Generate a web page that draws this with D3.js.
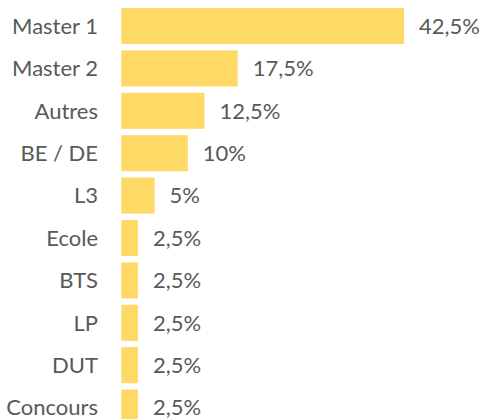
<!DOCTYPE html>
<html><head><meta charset="utf-8">
<script src="https://cdn.jsdelivr.net/npm/d3@7"></script>
<style>body{margin:0;background:#fff}svg{display:block}</style>
</head><body>
<script>
const categories = ["Master 1","Master 2","Autres","BE / DE","L3","Ecole","BTS","LP","DUT","Concours"];
const values = [42.5,17.5,12.5,10,5,2.5,2.5,2.5,2.5,2.5];
const labels = ["42,5%","17,5%","12,5%","10%","5%","2,5%","2,5%","2,5%","2,5%","2,5%"];

const W=481,H=419;
const svg=d3.select("body").append("svg").attr("width",W).attr("height",H);
const x=d3.scaleLinear().domain([0,42.5]).range([121.3,404]);
const y=d3.scaleBand().domain(categories).range([4.8,428.8]).paddingInner(0.15).paddingOuter(0.075);
const font="Lato, 'Open Sans', sans-serif";
const g=svg.append("g");
g.selectAll("rect").data(values).join("rect")
 .attr("x",x(0)).attr("y",(d,i)=>y(categories[i]))
 .attr("width",d=>x(d)-x(0)).attr("height",y.bandwidth())
 .attr("fill","#FFD966");
g.selectAll("text.cat").data(categories).join("text").attr("class","cat")
 .attr("x",98).attr("y",d=>y(d)+y.bandwidth()/2).attr("dy","0.35em")
 .attr("text-anchor","end").attr("font-family",font).attr("font-size",22).attr("fill","#595959").text(d=>d);
g.selectAll("text.val").data(values).join("text").attr("class","val")
 .attr("x",d=>x(d)+15).attr("y",(d,i)=>y(categories[i])+y.bandwidth()/2).attr("dy","0.35em")
 .attr("font-family",font).attr("font-size",22).attr("fill","#595959").text((d,i)=>labels[i]);
</script>
</body></html>
